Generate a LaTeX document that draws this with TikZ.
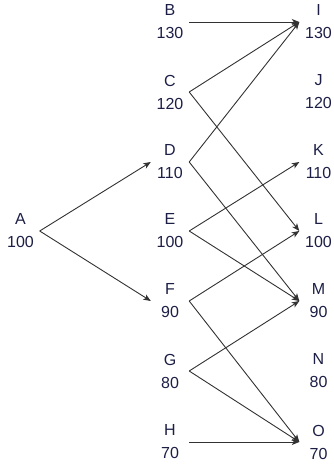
\documentclass[tikz,border=0pt]{standalone}
\usepackage{fontspec}
\setmainfont{Liberation Sans}
\usetikzlibrary{arrows.meta}
\definecolor{txt}{RGB}{28,30,70}
\definecolor{ln}{RGB}{50,50,50}
\begin{document}
\begin{tikzpicture}[x=1pt,y=-1pt,
  lab/.style={align=center,inner sep=0pt,minimum width=38pt,text=txt,
    font=\fontsize{16}{23}\selectfont},
  arr/.style={draw=ln,line width=0.9pt,-{Stealth[length=7.5pt,width=6pt,inset=2pt]}}]
\useasboundingbox (0,0) rectangle (333,468);
\node[lab] (A) at (20.5,231) {A\\100};
\node[lab] (B) at (170,22) {B\\130};
\node[lab] (C) at (170,92) {C\\120};
\node[lab] (D) at (170,162) {D\\110};
\node[lab] (E) at (170,231) {E\\100};
\node[lab] (F) at (170,301) {F\\90};
\node[lab] (G) at (170,371) {G\\80};
\node[lab] (H) at (170,442) {H\\70};
\node[lab] (I) at (318.5,22) {I\\130};
\node[lab] (J) at (318.5,92) {J\\120};
\node[lab] (K) at (318.5,162) {K\\110};
\node[lab] (L) at (318.5,231) {L\\100};
\node[lab] (M) at (318.5,301) {M\\90};
\node[lab] (N) at (318.5,371) {N\\80};
\node[lab] (O) at (318.5,442) {O\\70};
\draw[arr] (A.east) -- (D.west);
\draw[arr] (A.east) -- (F.west);
\draw[arr] (B.east) -- (I.west);
\draw[arr] (C.east) -- (I.west);
\draw[arr] (D.east) -- (I.west);
\draw[arr] (C.east) -- (L.west);
\draw[arr] (D.east) -- (M.west);
\draw[arr] (E.east) -- (K.west);
\draw[arr] (E.east) -- (M.west);
\draw[arr] (F.east) -- (L.west);
\draw[arr] (F.east) -- (O.west);
\draw[arr] (G.east) -- (M.west);
\draw[arr] (G.east) -- (O.west);
\draw[arr] (H.east) -- (O.west);
\end{tikzpicture}
\end{document}
